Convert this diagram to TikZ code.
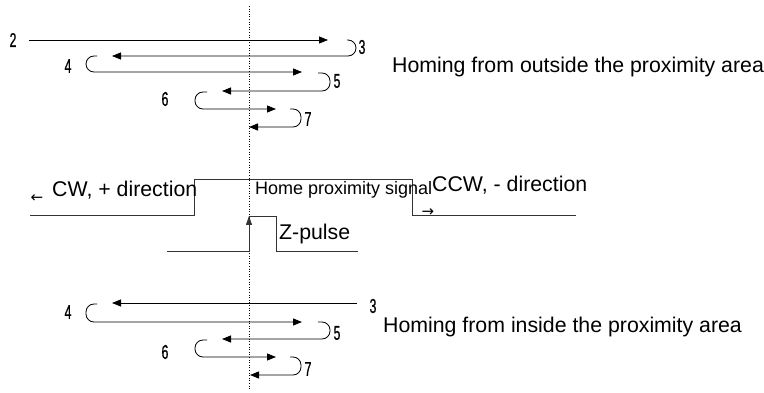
\documentclass[tikz,border=0pt]{standalone}
\usepackage{fontspec}
\setmainfont{Liberation Sans}
\newfontfamily\numfont[FakeStretch=0.62,FakeBold=0.6]{Liberation Sans}
\newfontfamily\symfont{DejaVu Sans}
\usetikzlibrary{arrows.meta}
\begin{document}
\begin{tikzpicture}[x=1pt,y=-1pt,
  mv/.style={draw=black,line width=0.8pt,rounded corners=8pt,-{Triangle[length=9pt,width=7pt]}},
  sig/.style={draw=black!80,line width=0.8pt},
  num/.style={font=\numfont\fontsize{20}{20}\selectfont,inner sep=0pt},
  lbl/.style={font=\fontsize{21.3}{23}\selectfont,inner sep=0pt,anchor=west},
  sml/.style={font=\fontsize{18}{19}\selectfont,inner sep=0pt,anchor=west},
  arr/.style={font=\symfont\fontsize{15}{15}\selectfont,inner sep=0pt}]
\useasboundingbox (0,0) rectangle (764,393);
% reference axis
\coordinate (axT) at (249,6);
\coordinate (axB) at (249,390);
\draw[dotted,line width=0.6pt] (axT) -- (axB);

% ---- top: homing from outside ----
\node[num] (n2) at (13,40) {2};
\node[num] (n3) at (362,47) {3};
\node[num] (n4) at (68,66) {4};
\node[num] (n5) at (337,81) {5};
\node[num] (n6) at (165,99) {6};
\node[num] (n7) at (308,119) {7};
\coordinate (a1) at (29,40);  \coordinate (a1e) at (328,40);
\draw[mv] (a1) -- (a1e);
\draw[mv] (347,40) -- (356,40) -- (356,56) -- (112,56);
\draw[mv] (97,56) -- (86,56) -- (86,72) -- (302,72);
\draw[mv] (318,73) -- (330,73) -- (330,91) -- (222,91);
\draw[mv] (207,92) -- (195,92) -- (195,109) -- (276,109);
\draw[mv] (290,109) -- (301,109) -- (301,127) -- (249,127);
\node[lbl] (tout) at (392,67) {Homing from outside the proximity area};

% ---- middle: signals ----
\coordinate (h0) at (30,215); \coordinate (h1) at (194,215);
\coordinate (h2) at (194,179); \coordinate (h3) at (412,179);
\coordinate (h4) at (412,215); \coordinate (h5) at (576,215);
\draw[sig] (h0) -- (h1) -- (h2) -- (h3) -- (h4) -- (h5);
\coordinate (z0) at (167,251); \coordinate (z1) at (249,251);
\coordinate (z2) at (249,216); \coordinate (z3) at (276,216);
\coordinate (z4) at (276,251); \coordinate (z5) at (358,251);
\draw[sig,-{Triangle[length=9pt,width=6pt]}] (z0) -- (z1) -- (z2);
\draw[sig] (z2) -- (z3) -- (z4) -- (z5);
\node[sml] (hps) at (255,190) {Home proximity signal};
\node[lbl] (ccw) at (432,185) {CCW, - direction};
\node[lbl] (cw) at (52,190) {CW, + direction};
\node[arr] (la) at (37,199) {←};
\node[arr] (ra) at (428,213) {→};
\node[lbl] (zp) at (279,234) {Z-pulse};

% ---- bottom: homing from inside ----
\node[num] (m3) at (373,306) {3};
\node[num] (m4) at (68,312) {4};
\node[num] (m5) at (337,333) {5};
\node[num] (m6) at (165,352) {6};
\node[num] (m7) at (308,369) {7};
\coordinate (b1) at (357,303); \coordinate (b1e) at (112,303);
\draw[mv] (b1) -- (b1e);
\draw[mv] (97,304) -- (86,304) -- (86,322) -- (302,322);
\draw[mv] (318,322) -- (330,322) -- (330,339) -- (222,339);
\draw[mv] (207,340) -- (195,340) -- (195,357) -- (276,357);
\draw[mv] (290,357) -- (301,357) -- (301,375) -- (250,375);
\node[lbl] (tin) at (383,327) {Homing from inside the proximity area};
\end{tikzpicture}
\end{document}
